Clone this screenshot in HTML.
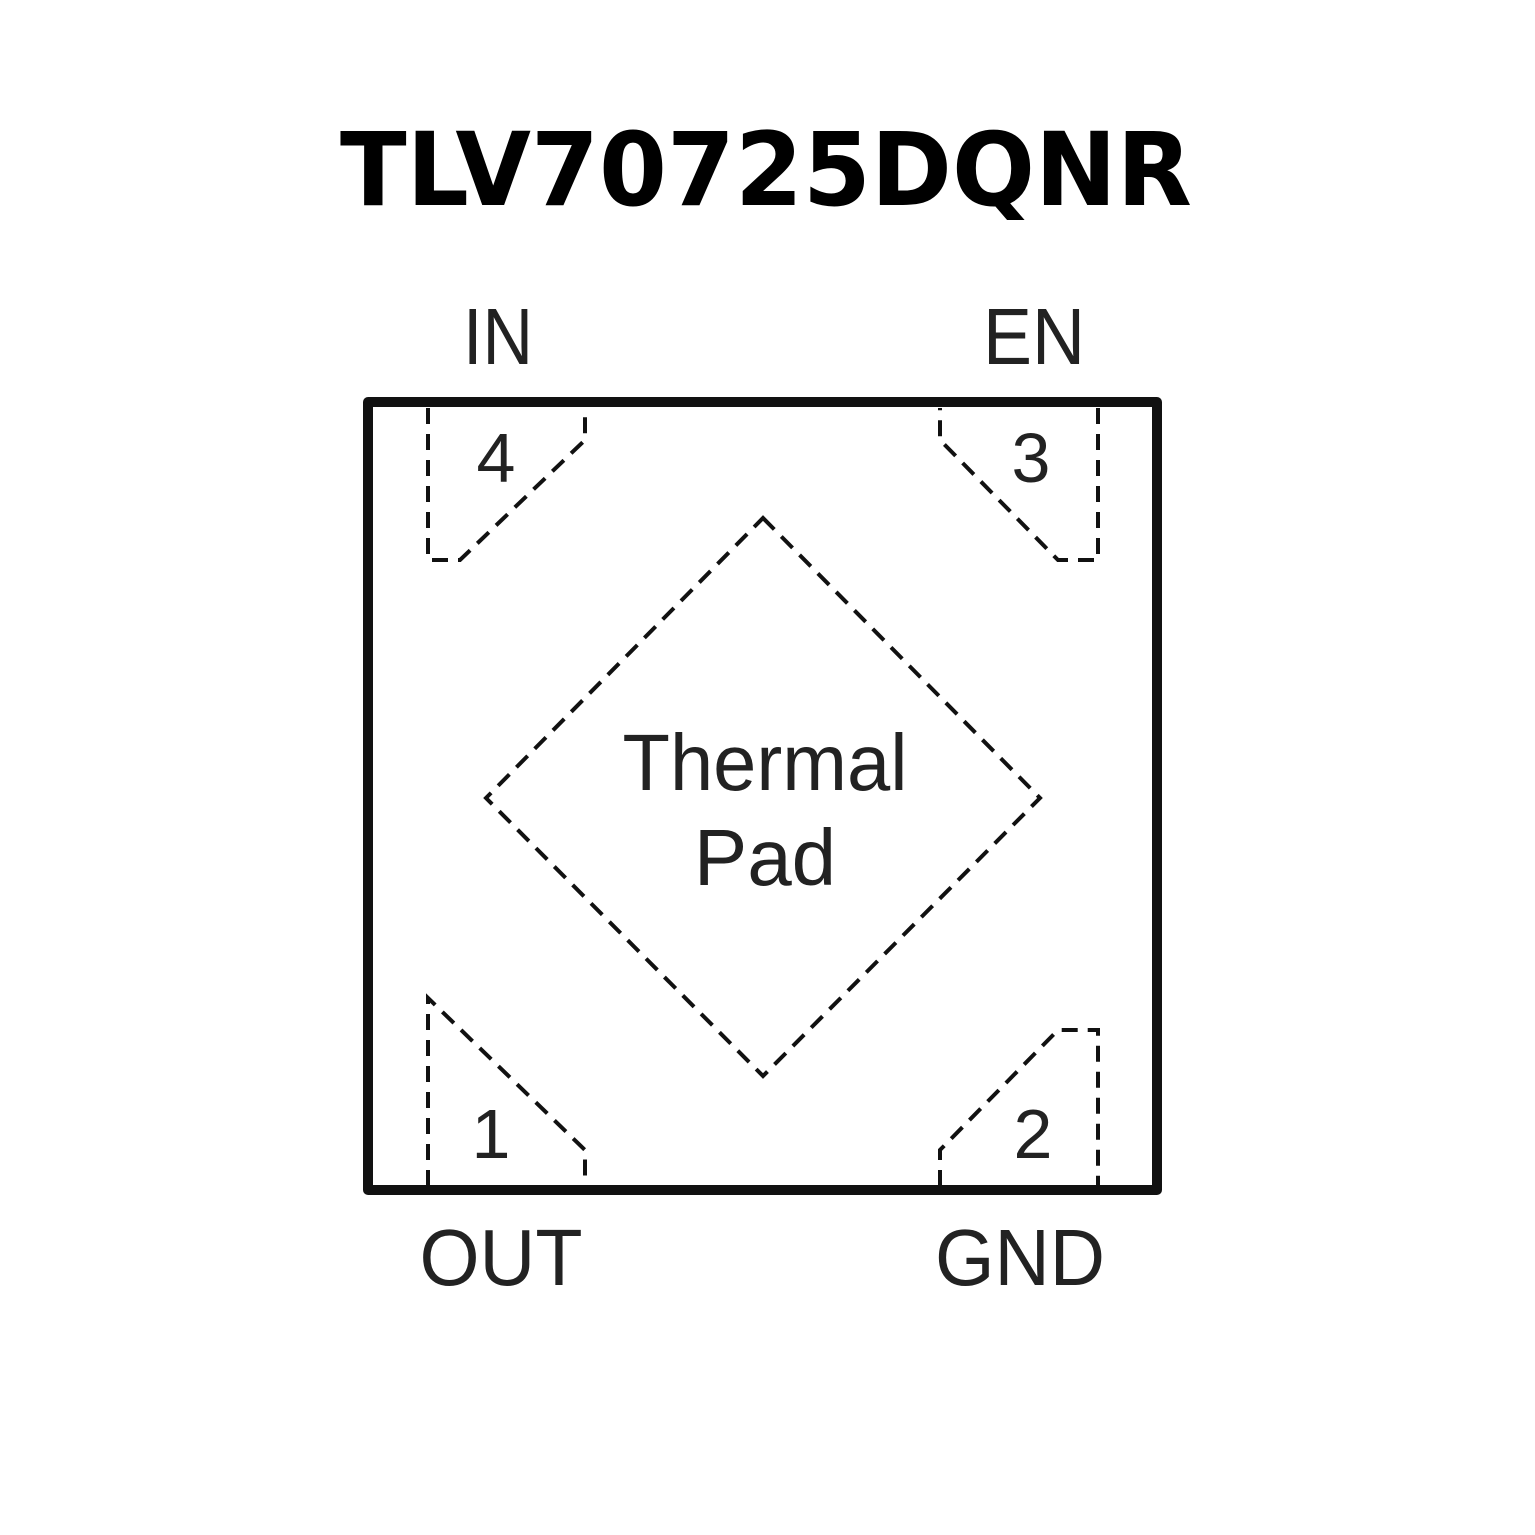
<!DOCTYPE html>
<html><head><style>html,body{margin:0;padding:0;background:#fff}svg{display:block}</style></head>
<body>
<svg width="1535" height="1535" viewBox="0 0 1535 1535" xmlns="http://www.w3.org/2000/svg">
<text x="340" y="205" font-family="DejaVu Sans, Liberation Sans, sans-serif" font-weight="bold" font-size="102" textLength="852" lengthAdjust="spacingAndGlyphs" fill="#000">TLV70725DQNR</text>
<rect x="368" y="402" width="789" height="788" fill="none" stroke="#111" stroke-width="10" stroke-linejoin="round"/>
<g fill="none" stroke="#111" stroke-width="4" stroke-dasharray="16,10">
<polyline points="428,408 428,560 460,560 585,440 585,408"/>
<polyline points="1098,408 1098,560 1058,560 940,440 940,408"/>
<polyline points="428,1186 428,998 585,1150 585,1186"/>
<polyline points="940,1186 940,1150 1058,1030 1098,1030 1098,1186"/>
<polygon points="763,518 1040,798 763,1076 486,798"/>
</g>
<g font-family="Liberation Sans, sans-serif" fill="#222">
<text x="498" y="364" font-size="80" text-anchor="middle" textLength="70" lengthAdjust="spacingAndGlyphs">IN</text>
<text x="1034" y="364" font-size="80" text-anchor="middle" textLength="102" lengthAdjust="spacingAndGlyphs">EN</text>
<text x="501" y="1285" font-size="80" text-anchor="middle" textLength="163" lengthAdjust="spacingAndGlyphs">OUT</text>
<text x="1020" y="1285" font-size="80" text-anchor="middle" textLength="170" lengthAdjust="spacingAndGlyphs">GND</text>
<text x="765" y="790" font-size="80" text-anchor="middle" textLength="285" lengthAdjust="spacingAndGlyphs">Thermal</text>
<text x="765" y="885" font-size="80" text-anchor="middle">Pad</text>
<text x="496" y="482" font-size="70" text-anchor="middle">4</text>
<text x="1031" y="482" font-size="70" text-anchor="middle">3</text>
<text x="491" y="1158" font-size="70" text-anchor="middle">1</text>
<text x="1033" y="1158" font-size="70" text-anchor="middle">2</text>
</g>
</svg>
</body></html>
